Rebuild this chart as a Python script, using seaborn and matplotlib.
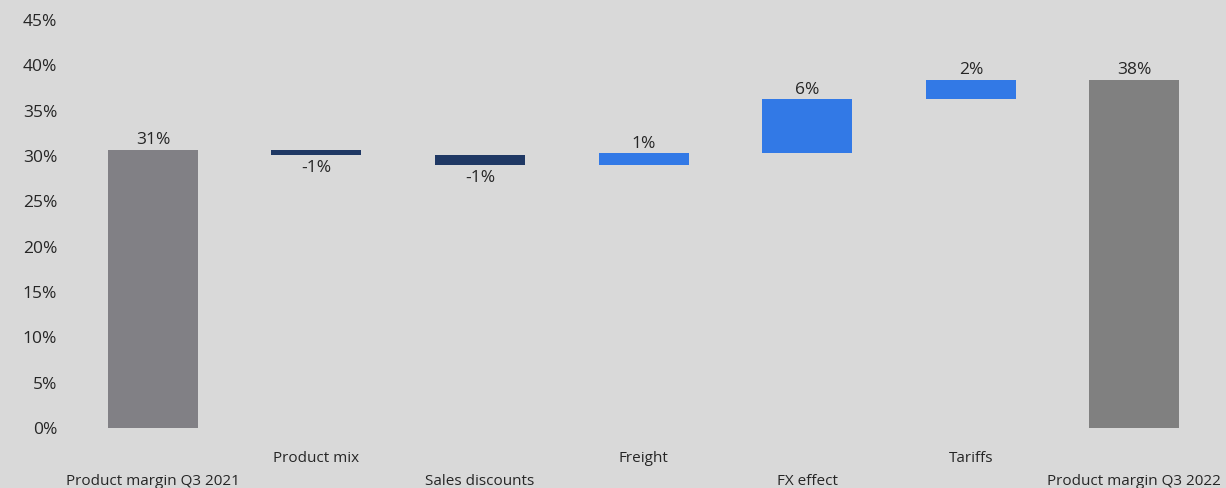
import matplotlib
matplotlib.use("Agg")
import matplotlib.pyplot as plt
import seaborn as sns
import numpy as np

categories = ["Product margin Q3 2021", "Product mix", "Sales discounts", "Freight",
              "FX effect", "Tariffs", "Product margin Q3 2022"]
start_value = 30.7
changes = [-0.6, -1.1, 1.3, 6.0, 2.1]
ytick_values = [0, 5, 10, 15, 20, 25, 30, 35, 40, 45]

# waterfall geometry from the data
bottoms = [0.0]
heights = [start_value]
level = start_value
kinds = ["total"]
for c in changes:
    if c >= 0:
        bottoms.append(level)
        heights.append(c)
        kinds.append("up")
    else:
        bottoms.append(level + c)
        heights.append(-c)
        kinds.append("down")
    level += c
bottoms.append(0.0)
heights.append(level)
kinds.append("total")
values = [start_value] + changes + [level]

BG = "#d9d9d9"
colors = {"total": "#808080", "up": "#3279e6", "down": "#1f3864"}
first_color = "#818085"

sns.set_theme(style="white")
plt.rcParams["font.family"] = ["Open Sans", "DejaVu Sans"]

fig = plt.figure(figsize=(12.26, 4.88), dpi=100, facecolor=BG)
ax = fig.add_axes([0.058, 0.123, 0.934, 0.836])
ax.set_facecolor(BG)

sns.barplot(x=categories, y=heights, bottom=bottoms, width=0.55, ax=ax,
            color="#808080", linewidth=0, saturation=1)
for i, p in enumerate(ax.patches):
    p.set_facecolor(first_color if i == 0 else colors[kinds[i]])

txt_color = "#262626"
for i, (b, h, v, k) in enumerate(zip(bottoms, heights, values, kinds)):
    lab = f"{v:.0f}%"
    if k == "down":
        ax.text(i, b - 0.5, lab, ha="center", va="top", fontsize=12.5, color=txt_color)
    else:
        ax.text(i, b + h + 0.15, lab, ha="center", va="bottom", fontsize=12.5, color=txt_color)

ax.set_xlim(-0.5, 6.5)
ax.set_ylim(0, 45)
ax.set_yticks(ytick_values)
ax.set_yticklabels([f"{t}%" for t in ytick_values], fontsize=12.5, color=txt_color)
ax.set_xticks(range(len(categories)))
ax.set_xticklabels(categories, fontsize=11, color=txt_color)
for i, t in enumerate(ax.get_xticklabels()):
    if i % 2 == 0:
        t.set_y(-0.10)
    else:
        t.set_y(-0.045)
ax.tick_params(axis="both", length=0)
ax.tick_params(axis="y", pad=10)
ax.set_xlabel("")
for s in ax.spines.values():
    s.set_visible(False)

fig.savefig("out.png", dpi=100, facecolor=BG)
